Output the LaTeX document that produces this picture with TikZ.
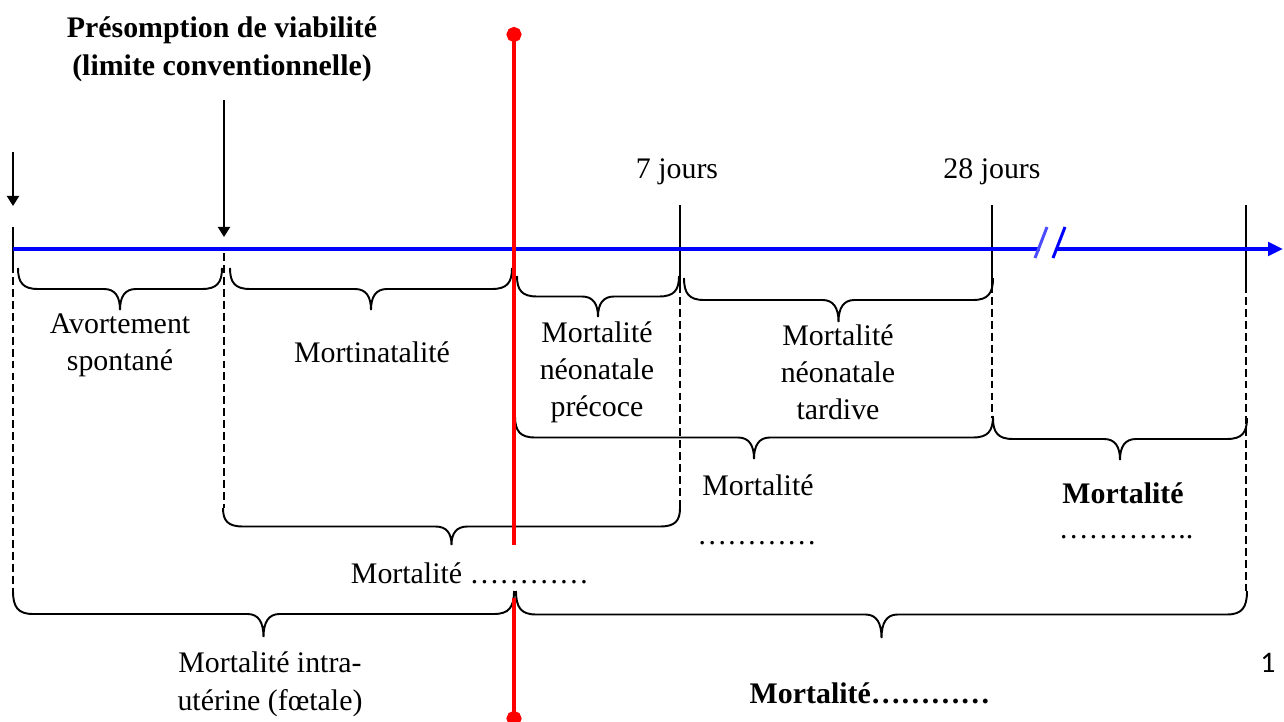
\documentclass[tikz,border=0pt]{standalone}
\usepackage{fontspec}
\setmainfont{Liberation Serif}
\newfontfamily\sanschiffre{Carlito}
\usetikzlibrary{arrows.meta,positioning}
\def\accolade[#1](#2:#3:#4:#5)#6% [options] (x gauche:x droite:y haut:profondeur) {nom de la pointe}
{ \draw[#1] (#2,#4) .. controls (#2,{#4+0.35*#5}) and ({#2+5},{#4+0.5*#5}) .. ({#2+20},{#4+0.5*#5})
  -- ({(#2+#3)/2-16},{#4+0.5*#5}) .. controls ({(#2+#3)/2-5},{#4+0.5*#5}) and ({(#2+#3)/2},{#4+0.68*#5}) .. ({(#2+#3)/2},{#4+#5}) coordinate (#6)
  .. controls ({(#2+#3)/2},{#4+0.68*#5}) and ({(#2+#3)/2+5},{#4+0.5*#5}) .. ({(#2+#3)/2+16},{#4+0.5*#5})
  -- ({#3-20},{#4+0.5*#5}) .. controls ({#3-5},{#4+0.5*#5}) and (#3,{#4+0.35*#5}) .. (#3,#4);}

\begin{document}
\begin{tikzpicture}[x=0.02cm,y=-0.02cm,line width=1.1pt,
  lbl/.style={align=center,inner sep=0pt,font=\fontsize{17}{21}\selectfont},
  grand/.style={lbl,font=\fontsize{17}{21.6}\selectfont},
  gras/.style={lbl,font=\fontsize{17}{21.6}\selectfont\bfseries},
  axe/.style={blue,line width=2.3pt},
  tic/.style={black,line width=1.1pt},
  pointille/.style={black,line width=1.5pt,dash pattern=on 4.5pt off 2.3pt},
  fleche/.style={-{Triangle[length=0.2cm,width=0.24cm]},line width=1.1pt},
  accol/.style={line width=1.1pt},
  naissance/.style={red,line width=2.8pt}]
\useasboundingbox (0,0) rectangle (1284,722);

% reperes sur l'axe
\coordinate (t0)  at (13,249);
\coordinate (tv)  at (224,249);
\coordinate (tn)  at (514,249);
\coordinate (t7)  at (680,249);
\coordinate (t28) at (992,249);
\coordinate (tf)  at (1246,249);

% pointilles
\draw[pointille] (13,265) -- (13,591);
\draw[pointille] (224,253) -- (224,508);
\draw[pointille] (680,285) -- (680,508);
\draw[pointille] (992,285) -- (992,418);
\draw[pointille] (1246,285) -- (1246,591);

% traits verticaux
\draw[tic] (13,227) -- (13,265);
\foreach \x in {680,992,1246}
  \draw[tic] (\x,205) -- (\x,285);

% axe du temps
\draw[axe] (t0) -- (1040,249);
\draw[axe,-{Triangle[length=0.3cm,width=0.27cm]}] (1057,249) -- (1283,249);
\draw[axe,blue!70,line width=1.7pt] (1035,258) -- (1047,227);
\draw[axe,line width=1.7pt] (1053,258) -- (1065,227);

% titres
\node[gras] (titre) at (222,49) {Présomption de viabilité\\(limite conventionnelle)};
\node[lbl] (l7) at (677,172) {7 jours};
\node[lbl] (l28) at (992,172) {28 jours};

% fleches
\coordinate (fl0) at (13,152);
\coordinate (fl0b) at (13,206);
\coordinate (flv) at (224,100);
\coordinate (flvb) at (224,237);
\draw[fleche] (fl0) -- (fl0b);
\draw[fleche] (flv) -- (flvb);

% accolades
\accolade[accol](18:222:268:42){b1}
\accolade[accol](230:512:268:42){b2}
\accolade[accol](517:679:276:41){b3}
\accolade[accol](684:993:278:44){b4}
\accolade[accol](515:993:416:43){b5}
\accolade[accol](993:1247:418:42){b6}
\accolade[accol](223:680:508:37){b7}
\accolade[accol](13:514:591:46){b8}
\accolade[accol](516:1247:591:47){b9}

% etiquettes
\node[lbl] (avort) at (120,345) {Avortement\\spontané};
\node[lbl] (mortinat) at (372,352) {Mortinatalité};
\node[lbl] (precoce) at (597,372) {Mortalité\\néonatale\\précoce};
\node[lbl] (tardive) at (838,372) {Mortalité\\néonatale\\tardive};
\node[lbl] (m5) at (758,485) {Mortalité};
\node[lbl] (d5) at (757,543) {…………};
\node[lbl,font=\fontsize{17}{21}\selectfont\bfseries] (m6) at (1123,493) {Mortalité};
\node[lbl] (d6) at (1126,537) {…………..};
\node[lbl] (m7) at (470,573) {Mortalité …………};
\node[grand] (m8) at (270,684) {Mortalité intra-\\utérine (fœtale)};
\node[gras] (m9) at (870,693) {Mortalité…………};
\node[inner sep=0pt,font=\sanschiffre\fontsize{17}{20}\selectfont] (page) at (1268,663) {1};

% naissance
\coordinate (n1) at (514,27);
\coordinate (n2) at (514,545);
\coordinate (n3) at (514,598);
\coordinate (n4) at (514,726);
\draw[naissance,{Circle[length=0.3cm]}-] (n1) -- (n2);
\draw[naissance,-{Circle[length=0.3cm]}] (n3) -- (n4);

\end{tikzpicture}
\end{document}
